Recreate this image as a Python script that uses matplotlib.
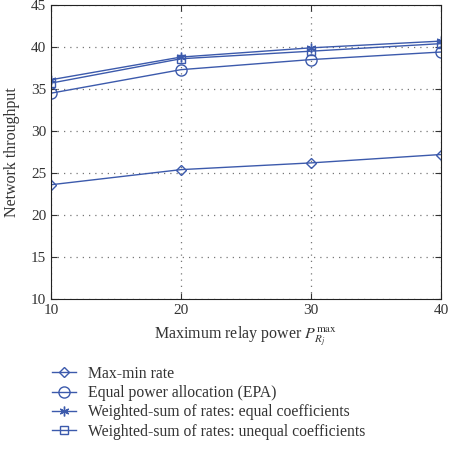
import matplotlib.pyplot as plt
import numpy as np

plt.rcParams['font.family'] = ['Liberation Serif', 'DejaVu Serif']
plt.rcParams['mathtext.fontset'] = 'stix'

# relay power
power = [10, 20, 30, 40]

# throughput per scheme
maxmin = [23.6, 25.4, 26.2, 27.2]
epa = [34.5, 37.3, 38.5, 39.4]
ws_equal = [36.1, 38.8, 39.9, 40.7]
ws_unequal = [35.7, 38.6, 39.5, 40.4]

labels = ["Max-min rate",
          "Equal power allocation (EPA)",
          "Weighted-sum of rates: equal coefficients",
          "Weighted-sum of rates: unequal coefficients"]

col = "#3c5aac"
txt = "#333333"

fig = plt.figure(figsize=(4.49, 4.53), dpi=100)
ax = fig.add_axes([0.1136, 0.34, 0.8686, 0.649])

ax.plot(power, maxmin, c=col, lw=1, marker="D", ms=5.5, mfc="none", label=labels[0])
ax.plot(power, epa, c=col, lw=1, marker="o", ms=8, mfc="none", label=labels[1])
ax.plot(power, ws_equal, c=col, lw=1, marker=(6, 2, 0), ms=7, mfc="none", label=labels[2])
ax.plot(power, ws_unequal, c=col, lw=1, marker="s", ms=6, mfc="none", label=labels[3])

ax.set_xlim(10, 40)
ax.set_ylim(10, 45)
ax.set_xticks([10, 20, 30, 40])
ax.set_yticks(range(10, 46, 5))
ax.grid(True, ls=(0, (1, 4)), c="#777777", lw=0.9)
ax.tick_params(direction="in", top=True, right=True, labelsize=11, colors=txt, length=4)
for s in ax.spines.values():
    s.set_color("#222222")
    s.set_linewidth(0.8)

ax.set_xlabel(r"Maximum relay power $P_{R_j}^{\max}$", fontsize=11.5, color=txt, labelpad=6)
ax.set_ylabel("Network throughput", fontsize=11.5, color=txt, labelpad=8)

fig.legend(loc="upper left", bbox_to_anchor=(0.116, 0.193), frameon=False,
           fontsize=11.3, labelcolor=txt, handlelength=1.5, labelspacing=0.22,
           borderaxespad=0, borderpad=0, handletextpad=0.8)

plt.savefig("out.png", dpi=100)
